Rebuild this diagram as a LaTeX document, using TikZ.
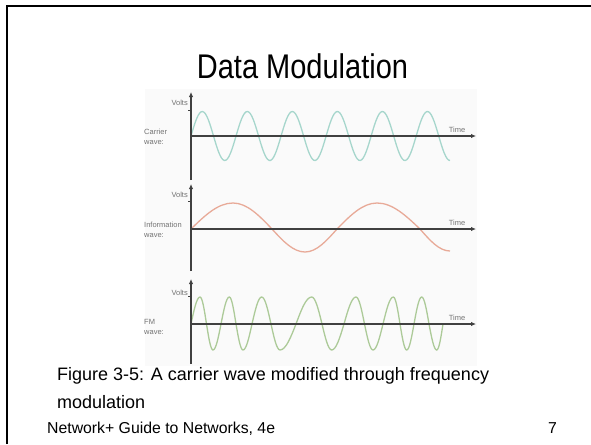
\documentclass[tikz,border=0pt]{standalone}
\usepackage{fontspec}
\setmainfont{Liberation Sans}
\usetikzlibrary{arrows.meta}

\definecolor{carrierline}{RGB}{166,214,204}
\definecolor{infoline}{RGB}{232,170,152}
\definecolor{fmline}{RGB}{172,202,152}

\begin{document}
\begin{tikzpicture}[x=1pt,y=-1pt]
  \tikzset{
    axis/.style={draw=black!75,line width=1.2pt,-{Latex[length=5pt,width=4.5pt]}},
    tick/.style={draw=black!75,line width=0.8pt},
    lbl/.style={font=\fontsize{7.5}{10}\selectfont,text=black!55,inner sep=0pt},
    wave/.style={line width=1.3pt},
    slidetext/.style={anchor=base west,inner sep=0pt}
  }
  \useasboundingbox (0,0) rectangle (591,444);

  % slide edge
  \draw[line width=2.6pt] (7,444) -- (7,6) -- (591,6);

  \node[font=\fontsize{29}{35}\selectfont,anchor=base,inner sep=0pt] (title) at (302.5,78)
    {\scalebox{1}[1.18]{Data Modulation}};

  % figure background
  \fill[black!2] (145,89) rectangle (477,366);

  % carrier (period 45.04)
  \draw[wave,carrierline] plot[domain=0:259,samples=180,smooth]
    ({191+\x},{136-24.5*sin(\x*7.993)});
  \draw[axis] (191,180) -- (191,92);
  \draw[axis] (191,136) -- (476,136);
  \draw[tick] (188,110) -- (191,110);
  \node[lbl,anchor=east] (volts1) at (188,103) {Volts};
  \node[lbl,anchor=west,align=left] (name1) at (144,137) {Carrier\\wave:};
  \node[lbl] (time1) at (457,130) {Time};

  % information
  \draw[wave,infoline] (191,229) sin (233,203) cos (272,229) sin (305,252)
    cos (337,229) sin (377,203) cos (420,229) sin (450,251);
  \draw[axis] (191,271) -- (191,184);
  \draw[axis] (191,229) -- (476,229);
  \draw[tick] (188,201) -- (191,201);
  \node[lbl,anchor=east] (volts2) at (188,195) {Volts};
  \node[lbl,anchor=west,align=left] (name2) at (144,229.5) {Information\\wave:};
  \node[lbl] (time2) at (457,223) {Time};

  % fm
  \draw[wave,fmline] (191,324)
    \foreach \xe/\xz/\ye in {200/206.5/297, 213/221/350, 229.3/236/297, 243/252/350,
      261.7/271/297, 280/296/350, 311.7/322/297, 331.7/344/350, 356/364.5/297,
      373/383/350, 393.3/400/297, 406.7/414/350, 421.7/429/297, 436.7/443/350}
    { sin (\xe,\ye) cos (\xz,324) };
  \draw[axis] (191,364) -- (191,279);
  \draw[axis] (191,324) -- (476,324);
  \draw[tick] (188,296) -- (191,296);
  \node[lbl,anchor=east] (volts3) at (188,293) {Volts};
  \node[lbl,anchor=west,align=left] (name3) at (144,327) {FM\\wave:};
  \node[lbl] (time3) at (457,318) {Time};

  % caption and footer
  \node[slidetext,font=\fontsize{18}{22}\selectfont] (cap1) at (57,380)
    {Figure 3-5: A carrier wave modified through frequency};
  \node[slidetext,font=\fontsize{18}{22}\selectfont] (cap2) at (57,408)
    {modulation};
  \node[slidetext,font=\fontsize{15.8}{20}\selectfont] (foot) at (47,433)
    {Network+ Guide to Networks, 4e};
  \node[slidetext,font=\fontsize{15.8}{20}\selectfont,anchor=base east] (page) at (557,433) {7};
\end{tikzpicture}
\end{document}
